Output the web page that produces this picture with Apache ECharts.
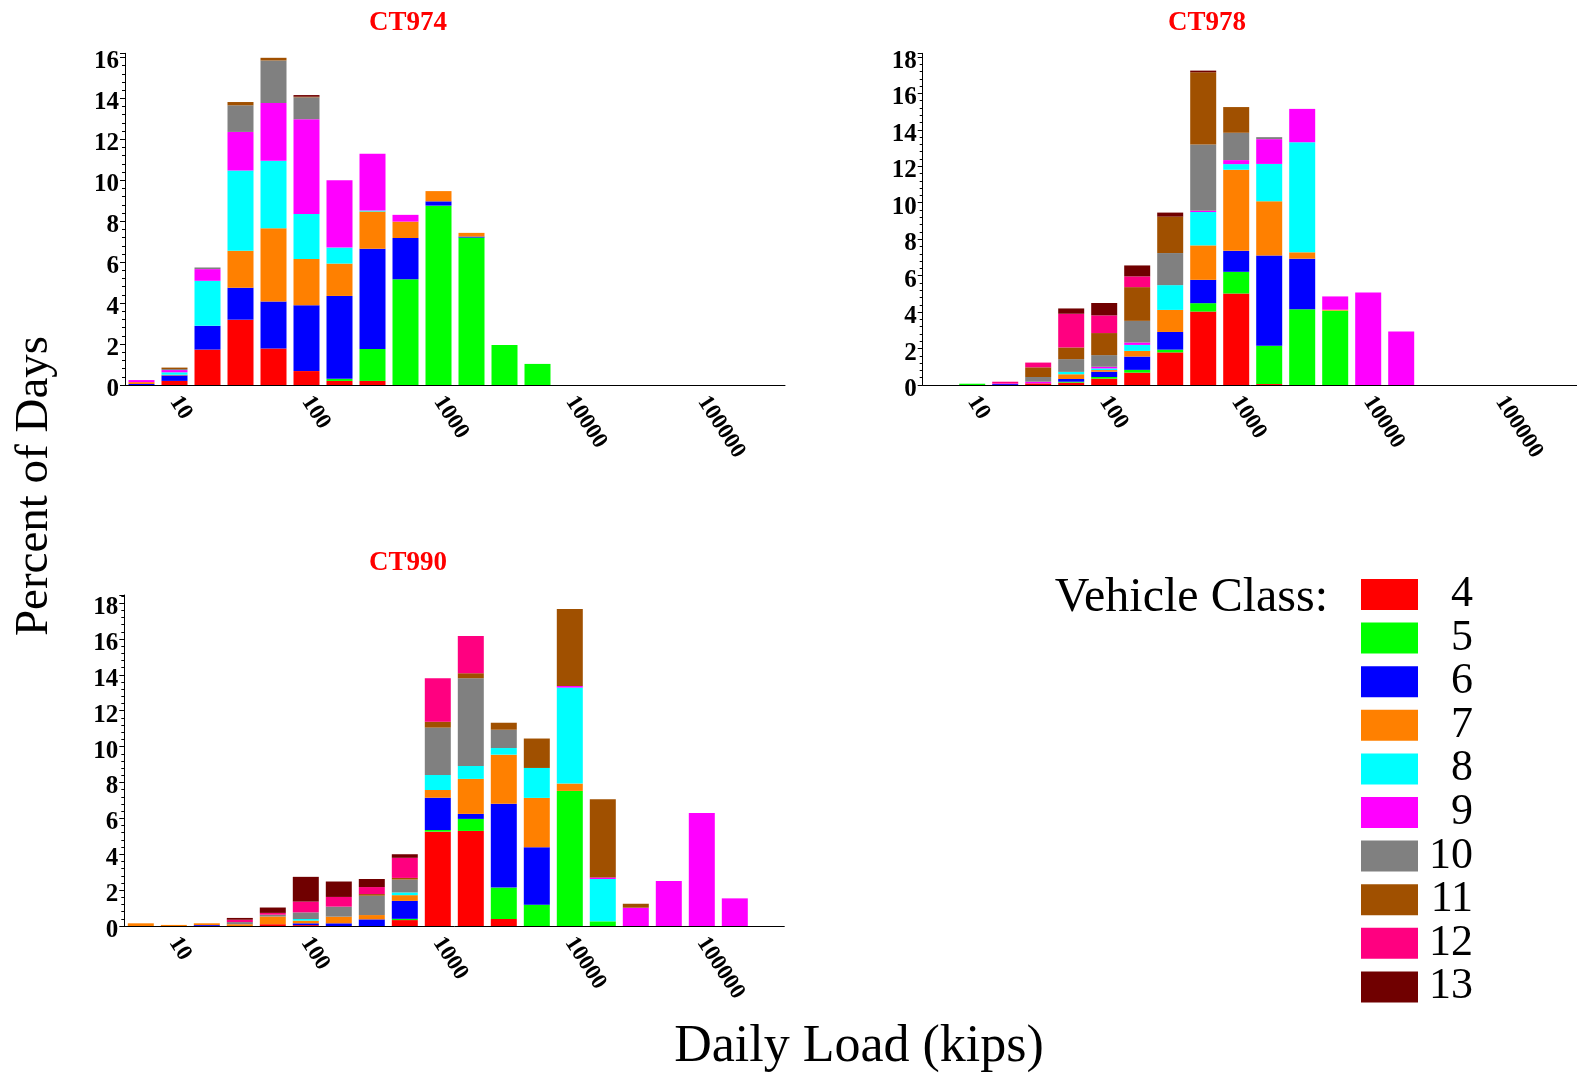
<!DOCTYPE html>
<html>
<head>
<meta charset="utf-8">
<script src="https://cdn.jsdelivr.net/npm/echarts@6/dist/echarts.min.js"></script>
<style>
html,body{margin:0;padding:0;background:#fff;}
#chart{width:1577px;height:1074px;}
</style>
</head>
<body>
<div id="chart"></div>
<script>
// ---- data ----
const classNames = ['4','5','6','7','8','9','10','11','12','13'];
const classColors = ['#FF0000','#00FF00','#0000FF','#FF8000','#00FFFF','#FF00FF','#808080','#A05000','#FF0080','#700000'];
const panelTitles = ['CT974','CT978','CT990'];
// quarter-decade bin centres (kips); the last bin is empty
const binCenters = [5.623,10,17.78,31.62,56.23,100,177.8,316.2,562.3,1000,1778,3162,5623,10000,17783,31623,56234,100000,177828,316228];

const ct974_4  = [0,0.2,1.73,3.19,1.78,0.68,0.2,0.2,0,0,0,0,0,0,0,0,0,0,0];
const ct974_5  = [0,0,0,0,0,0,0.1,1.56,5.16,8.76,7.2,1.95,1.03,0,0,0,0,0,0];
const ct974_6  = [0.05,0.27,1.16,1.56,2.3,3.22,4.05,4.89,2.02,0.21,0.05,0,0,0,0,0,0,0,0];
const ct974_7  = [0.09,0.03,0,1.81,3.58,2.25,1.58,1.82,0.8,0.5,0.18,0,0,0,0,0,0,0,0];
const ct974_8  = [0,0.12,2.2,3.91,3.29,2.2,0.78,0.05,0,0,0,0,0,0,0,0,0,0,0];
const ct974_9  = [0.1,0.11,0.57,1.89,2.82,4.63,3.29,2.77,0.33,0,0,0,0,0,0,0,0,0,0];
const ct974_10 = [0,0.05,0.08,1.3,2.08,1.07,0,0,0,0,0,0,0,0,0,0,0,0,0];
const ct974_11 = [0,0.07,0,0.16,0.13,0.03,0,0,0,0,0,0,0,0,0,0,0,0,0];
const ct974_12 = [0,0,0,0,0,0,0,0,0,0,0,0,0,0,0,0,0,0,0];
const ct974_13 = [0,0,0,0,0,0.08,0,0,0,0,0,0,0,0,0,0,0,0,0];

const ct978_4  = [0,0,0,0.09,0.13,0.35,0.68,1.79,4.03,5.02,0.05,0,0,0,0,0,0,0,0];
const ct978_5  = [0,0.07,0,0,0.05,0.09,0.15,0.15,0.46,1.19,2.1,4.16,4.08,0,0,0,0,0,0];
const ct978_6  = [0,0,0.05,0,0.15,0.29,0.73,0.97,1.28,1.15,4.96,2.77,0,0,0,0,0,0,0];
const ct978_7  = [0,0,0,0,0.26,0.09,0.31,1.21,1.89,4.45,2.97,0.35,0.05,0,0,0,0,0,0];
const ct978_8  = [0,0,0,0,0.13,0.09,0.33,1.36,1.83,0.31,2.05,6.04,0,0,0,0,0,0,0];
const ct978_9  = [0,0,0.03,0.09,0,0.09,0.13,0,0.07,0.22,1.36,1.83,0.73,5.07,2.93,0,0,0,0];
const ct978_10 = [0,0,0,0.26,0.7,0.64,1.19,1.76,3.63,1.5,0.11,0,0,0,0,0,0,0,0];
const ct978_11 = [0,0,0,0.53,0.64,1.21,1.85,2.0,3.97,1.41,0,0,0,0,0,0,0,0,0];
const ct978_12 = [0,0,0.1,0.26,1.85,0.97,0.59,0,0,0,0,0,0,0,0,0,0,0,0];
const ct978_13 = [0,0,0,0,0.29,0.68,0.6,0.22,0.09,0,0,0,0,0,0,0,0,0,0];

const ct990_4  = [0,0,0,0,0.1,0.05,0,0,0.33,5.26,5.3,0.39,0,0,0,0,0,0,0];
const ct990_5  = [0,0,0,0,0,0,0,0,0.07,0.09,0.67,1.75,1.19,7.53,0.26,0,0,0,0];
const ct990_6  = [0,0,0.05,0,0,0.1,0.15,0.37,1.0,1.8,0.28,4.68,3.2,0,0,0,0,0,0];
const ct990_7  = [0.15,0.06,0.1,0.1,0.43,0.15,0.37,0.24,0.32,0.43,1.95,2.73,2.75,0.41,0,0,0,0,0];
const ct990_8  = [0,0,0,0,0,0.09,0,0,0.15,0.84,0.72,0.37,1.67,5.35,2.36,0,0,0,0];
const ct990_9  = [0,0,0,0,0,0,0,0,0,0,0,0,0,0.09,0.09,1.02,2.51,6.3,1.54];
const ct990_10 = [0,0,0,0.12,0.1,0.37,0.56,1.08,0.72,2.64,4.89,1.02,0,0,0,0,0,0,0];
const ct990_11 = [0,0,0,0,0,0,0,0.09,0.09,0.33,0.28,0.39,1.64,4.29,4.35,0.22,0,0,0];
const ct990_12 = [0,0,0,0.13,0.1,0.6,0.54,0.39,1.12,2.42,2.08,0,0,0,0,0,0,0,0];
const ct990_13 = [0,0,0,0.1,0.3,1.38,0.86,0.45,0.2,0,0,0,0,0,0,0,0,0,0];

const yMax = [16.2, 18.2, 18.45];
const xMin = 4.217, xMax = 421697;   // outer edges of the first and last quarter-decade bins

const panels = [
  [ct974_4,ct974_5,ct974_6,ct974_7,ct974_8,ct974_9,ct974_10,ct974_11,ct974_12,ct974_13],
  [ct978_4,ct978_5,ct978_6,ct978_7,ct978_8,ct978_9,ct978_10,ct978_11,ct978_12,ct978_13],
  [ct990_4,ct990_5,ct990_6,ct990_7,ct990_8,ct990_9,ct990_10,ct990_11,ct990_12,ct990_13]
];

// ---- layout ----
const FONT = '"Liberation Serif","Times New Roman",serif';
const grids = [
  {left:125, top:53.3, width:660, height:331.7},
  {left:922.7, top:53.3, width:660, height:331.7},
  {left:124.3, top:595, width:660, height:331}
];
const titlePos = [[408,23],[1207,23],[408,563]];

const chart = echarts.init(document.getElementById('chart'), null, {renderer:'canvas', width:1577, height:1074});

const xAxes = [];
grids.forEach((g,i)=>{
  // bin axis (carries the bars)
  xAxes.push({
    type:'category', gridIndex:i, position:'bottom', boundaryGap:true,
    data: binCenters.map(String),
    axisLine:{show:false}, axisTick:{show:false}, axisLabel:{show:false}, splitLine:{show:false}
  });
  // logarithmic load axis (carries the labels and line)
  xAxes.push({
    type:'log', logBase:10, gridIndex:i, position:'bottom', min:xMin, max:xMax,
    axisLine:{show:true, onZero:false, lineStyle:{color:'#000', width:1}},
    axisTick:{show:false}, splitLine:{show:false}, minorTick:{show:false},
    axisLabel:{
      rotate:-57, margin:13, color:'#000', fontFamily:FONT, fontWeight:'bold', fontSize:23,
      formatter:function(v){
        const l = Math.log10(v);
        return Math.abs(l-Math.round(l))<1e-6 ? String(Math.round(v)) : '';
      }
    }
  });
});
const yAxes = grids.map((g,i)=>({
  type:'value', gridIndex:i, min:0, max:yMax[i], interval:2,
  axisLine:{show:true, lineStyle:{color:'#000', width:1}},
  axisTick:{show:true, length:5, lineStyle:{color:'#000'}},
  minorTick:{show:true, splitNumber:5, length:3, lineStyle:{color:'#000'}},
  splitLine:{show:false},
  axisLabel:{
    color:'#000', fontFamily:FONT, fontWeight:'bold', fontSize:25, margin:6,
    formatter:function(v){ return Math.abs(v-Math.round(v))<1e-9 ? '{v|' + Math.round(v) + '}' : ''; },
    rich:{v:{padding:[9,0,0,0], color:'#000', fontFamily:FONT, fontWeight:'bold', fontSize:25}}
  }
}));

const series = [];
panels.forEach((arrs,p)=>{
  arrs.forEach((vals,c)=>{
    series.push({
      type:'bar', name:classNames[c], xAxisIndex:2*p, yAxisIndex:p, stack:'panel'+p,
      barWidth:26, itemStyle:{color:classColors[c]},
      emphasis:{disabled:true}, animation:false,
      data: vals
    });
  });
});

const graphics = [];
panelTitles.forEach((t,i)=>{
  graphics.push({type:'text', x:titlePos[i][0], y:titlePos[i][1], style:{
    text:t, fill:'#FF0000', font:'bold 27px '+FONT, textAlign:'center', textVerticalAlign:'middle'}});
});
graphics.push({type:'text', x:35, y:486, rotation:Math.PI/2, style:{
  text:'Percent of Days', fill:'#000', font:'47px '+FONT, textAlign:'center', textVerticalAlign:'middle'}});
graphics.push({type:'text', x:859, y:1047, style:{
  text:'Daily Load (kips)', fill:'#000', font:'52px '+FONT, textAlign:'center', textVerticalAlign:'middle'}});
graphics.push({type:'text', x:1328, y:598, style:{
  text:'Vehicle Class:', fill:'#000', font:'48px '+FONT, textAlign:'right', textVerticalAlign:'middle'}});

chart.setOption({
  animation:false,
  backgroundColor:'#fff',
  grid: grids.map(g=>Object.assign({containLabel:false, outerBoundsMode:'none'}, g)),
  xAxis: xAxes,
  yAxis: yAxes,
  legend:{
    data:classNames, orient:'vertical', left:1361, top:572.5, padding:0,
    itemWidth:57, itemHeight:31, itemGap:-0.4, icon:'rect', selectedMode:false,
    formatter:'{n|{name}}',
    textStyle:{color:'#000', fontFamily:FONT, fontSize:44,
      rich:{n:{width:50, align:'right', fontSize:44, fontFamily:FONT, color:'#000'}}}
  },
  graphic: graphics,
  series: series
});
</script>
</body>
</html>
